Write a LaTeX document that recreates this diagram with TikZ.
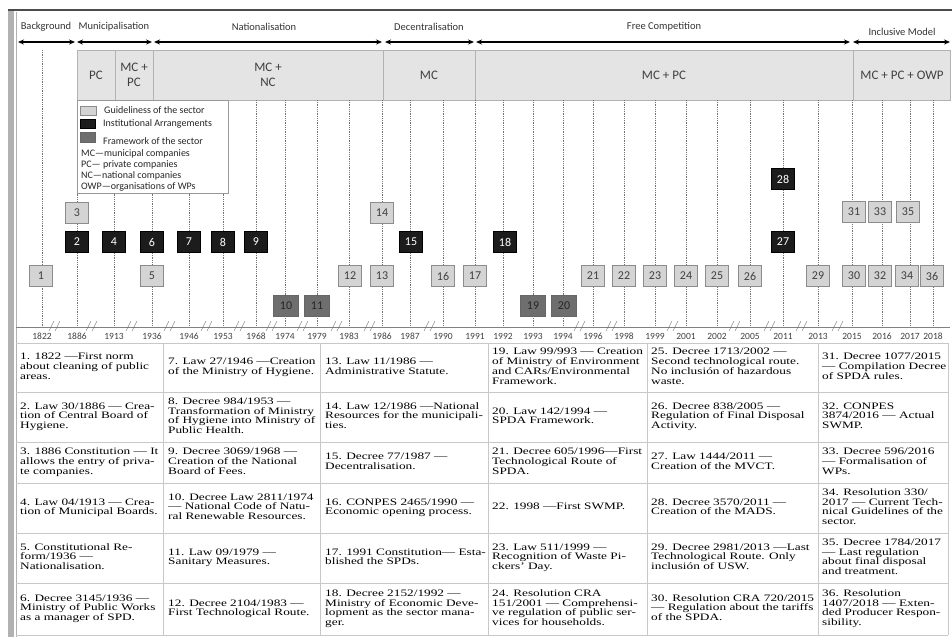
\documentclass[tikz,border=0pt]{standalone}
\usepackage{fontspec}
\usepackage{graphicx}
\setmainfont{Liberation Serif}
\newfontfamily\calfont{Carlito}
\usetikzlibrary{arrows.meta}
\definecolor{guidegray}{HTML}{D4D4D4}
\definecolor{instblack}{HTML}{1C1C1C}
\definecolor{fwgray}{HTML}{6E6E6E}
\definecolor{phasegray}{HTML}{E4E4E4}
\definecolor{gridgray}{HTML}{C8C8C8}
\newcommand{\evtext}[1]{\scalebox{1}[0.74]{\begin{tabular}{@{}l@{}}#1\end{tabular}}}

\begin{document}
\begin{tikzpicture}[x=1pt,y=-1pt,
    guidebox/.style={draw=black!45,fill=guidegray,minimum width=23pt,minimum height=21pt,inner sep=1pt,
      font=\calfont\fontsize{12}{12}\selectfont,text=black!75},
    instbox/.style={guidebox,draw=black,fill=instblack,text=white},
    fwbox/.style={guidebox,draw=black!60,fill=fwgray,text=black!85,minimum width=25pt},
    phase/.style={{Stealth[length=6pt,width=5pt]}-{Stealth[length=6pt,width=5pt]},line width=1.3pt},
    phaselabel/.style={font=\calfont\fontsize{10.5}{10.5}\selectfont,text=black!80,inner sep=0pt},
    actor/.style={font=\calfont\fontsize{13}{15}\selectfont,text=black!75,align=center,inner sep=0pt},
    yearline/.style={densely dotted,black!55,line width=0.8pt},
    yearlabel/.style={font=\calfont\fontsize{9.5}{9.5}\selectfont,text=black!75,inner sep=0pt},
    legtext/.style={font=\calfont\fontsize{10}{10}\selectfont,text=black!85,anchor=west,inner sep=0pt},
    cell/.style={anchor=west,inner sep=0pt,font=\fontsize{13.3}{13.3}\selectfont}]
  \useasboundingbox (0,0) rectangle (952,637);
  % frame
  \fill[black!30] (8,10) rectangle (14,637);
  \draw[line width=2pt,black!70] (8,10) -- (952,10);
  \draw[black!30] (16,12) -- (16,637);

  % phases
  \foreach \nm/\a/\b/\c/\d/\lab in {bg/18/75/46/27/Background, mun/77/152/114/27/Municipalisation,
      nat/154/382/264/27/Nationalisation, dec/385/474/429/27/Decentralisation,
      free/476/850/664/27/Free Competition, incl/853/950/902/32/Inclusive Model}{
    \coordinate (\nm L) at (\a,42);
    \coordinate (\nm R) at (\b,42);
    \draw[phase] (\nm L) -- (\nm R);
    \node[phaselabel] (\nm) at (\c,\d) {\lab};
  }

  % actors
  \draw[black!30,fill=phasegray] (77,50) rectangle (950,100);
  \foreach \x in {115,153,383,475,853}
    \draw[black!30] (\x,50) -- (\x,100);
  \node[actor] (pc) at (96,75) {PC};
  \node[actor] (mcpc) at (134,75) {MC +\\PC};
  \node[actor] (mcnc) at (268,75) {MC +\\NC};
  \node[actor] (mc) at (429,75) {MC};
  \node[actor] (mcpc2) at (664,75) {MC + PC};
  \node[actor] (mcpcowp) at (902,75) {MC + PC + OWP};

  % year lines
  \foreach \yr/\xx/\top in {1822/42/50, 1886/77/100, 1913/114/100, 1936/152/100, 1946/189/100,
      1953/223/100, 1968/256/100, 1974/285/100, 1979/317/100, 1983/349/100, 1986/382/100,
      1987/410/100, 1990/443/100, 1991/475/100, 1992/503/100, 1993/533/100, 1994/563/100,
      1996/593/100, 1998/624/100, 1999/655/100, 2001/686/100, 2002/717/100, 2005/750/100,
      2011/783/100, 2013/818/100, 2015/852/100, 2016/882/100, 2017/910/100, 2018/933/100}{
    \coordinate (t\yr) at (\xx,\top);
    \coordinate (y\yr) at (\xx,327);
    \draw[yearline] (t\yr) -- (y\yr);
    \node[yearlabel] (l\yr) at (\xx,336) {\yr};
  }
  \draw[black!50] (16,327) -- (950,327);
  \foreach \m in {55,92,132,170,207,240,272,303,337,370,430,580,612,673,735,770,802,838}
    \draw[black!60] (\m-6,331) -- (\m-1,321) (\m,331) -- (\m+5,321);

  % legend
  \draw[black!40,fill=white] (77,100) rectangle (228,193);
  \draw[black!45,fill=guidegray] (80,106) rectangle (96,115);
  \draw[black,fill=instblack] (80,119) rectangle (95,128);
  \draw[black!60,fill=fwgray] (80,132) rectangle (95,142);
  \node[legtext] (lg1) at (104,110) {Guideliness of the sector};
  \node[legtext] (lg2) at (103,124) {Institutional Arrangements};
  \node[legtext] (lg3) at (103,141) {Framework of the sector};
  \node[legtext] (lg4) at (81,154) {MC—municipal companies};
  \node[legtext] (lg5) at (81,165) {PC— private companies};
  \node[legtext] (lg6) at (81,176) {NC—national companies};
  \node[legtext] (lg7) at (81,187) {OWP—organisations of WPs};

  % events
  \foreach \n/\x/\y in {1/41/276, 3/77/213, 5/152/276, 12/350/276, 13/382/276, 14/382/213,
      16/443/276, 17/475/276, 21/593/276, 22/624/276, 23/655/276, 24/686/276, 25/717/276,
      26/750/276, 29/818/276, 30/854/276, 31/854/212, 32/880/276, 33/880/212, 34/907/276,
      35/908/212, 36/932/276}
    \node[guidebox] (b\n) at (\x,\y) {\n};
  \foreach \n/\x/\y in {2/77/242, 4/114/242, 6/152/242, 7/189/242, 8/223/242, 9/256/242,
      15/411/242, 18/505/242, 27/783/242, 28/783/179}
    \node[instbox] (b\n) at (\x,\y) {\n};
  \foreach \n/\x/\y in {10/286/306, 11/317/306, 19/533/306, 20/564/306}
    \node[fwbox] (b\n) at (\x,\y) {\n};

  % table
  \foreach \y in {343,392,442,483,533,583,635}
    \draw[gridgray] (16,\y) -- (948,\y);
  \foreach \x in {163,320,488,647,818,948}
    \draw[gridgray] (\x,343) -- (\x,635);

  \node[cell] (c1) at (20,367.5) {\evtext{1. 1822 —First norm\\about cleaning of public\\areas.}};
  \node[cell] (c2) at (20,417) {\evtext{2. Law 30/1886 — Crea-\\tion of Central Board of\\Hygiene.}};
  \node[cell] (c3) at (20,462.5) {\evtext{3. 1886 Constitution — It\\allows the entry of priva-\\te companies.}};
  \node[cell] (c4) at (20,508) {\evtext{4. Law 04/1913 — Crea-\\tion of Municipal Boards.}};
  \node[cell] (c5) at (20,558) {\evtext{5. Constitutional Re-\\form/1936 —\\Nationalisation.}};
  \node[cell] (c6) at (20,609) {\evtext{6. Decree 3145/1936 —\\Ministry of Public Works\\as a manager of SPD.}};

  \node[cell] (c7) at (168,367.5) {\evtext{7. Law 27/1946 —Creation\\of the Ministry of Hygiene.}};
  \node[cell] (c8) at (168,417) {\evtext{8. Decree 984/1953 —\\Transformation of Ministry\\of Hygiene into Ministry of\\Public Health.}};
  \node[cell] (c9) at (168,462.5) {\evtext{9. Decree 3069/1968 —\\Creation of the  National\\Board of Fees.}};
  \node[cell] (c10) at (168,508) {\evtext{10. Decree Law 2811/1974\\— National Code of Natu-\\ral Renewable Resources.}};
  \node[cell] (c11) at (168,558) {\evtext{11. Law 09/1979 —\\Sanitary Measures.}};
  \node[cell] (c12) at (168,609) {\evtext{12. Decree 2104/1983 —\\First Technological Route.}};

  \node[cell] (c13) at (325,367.5) {\evtext{13. Law 11/1986 —\\Administrative Statute.}};
  \node[cell] (c14) at (325,417) {\evtext{14. Law 12/1986 —National\\Resources for the municipali-\\ties.}};
  \node[cell] (c15) at (325,462.5) {\evtext{15. Decree 77/1987 —\\Decentralisation.}};
  \node[cell] (c16) at (325,508) {\evtext{16. CONPES 2465/1990 —\\Economic opening process.}};
  \node[cell] (c17) at (325,558) {\evtext{17. 1991 Constitution— Esta-\\blished the SPDs.}};
  \node[cell] (c18) at (325,609) {\evtext{18. Decree 2152/1992 —\\Ministry of Economic Deve-\\lopment as the sector mana-\\ger.}};

  \node[cell] (c19) at (492,367.5) {\evtext{19. Law 99/993 — Creation\\of Ministry of Environment\\and CARs/Environmental\\Framework.}};
  \node[cell] (c20) at (492,417) {\evtext{20. Law 142/1994 —\\SPDA Framework.}};
  \node[cell] (c21) at (492,462.5) {\evtext{21. Decree 605/1996—First\\Technological Route of\\SPDA.}};
  \node[cell] (c22) at (492,508) {\evtext{22. 1998 —First  SWMP.}};
  \node[cell] (c23) at (492,558) {\evtext{23. Law 511/1999 —\\Recognition of Waste Pi-\\ckers’ Day.}};
  \node[cell] (c24) at (492,609) {\evtext{24. Resolution CRA\\151/2001 — Comprehensi-\\ve regulation of public ser-\\vices for households.}};

  \node[cell] (c25) at (651,367.5) {\evtext{25. Decree 1713/2002 —\\Second technological route.\\No inclusión of hazardous\\waste.}};
  \node[cell] (c26) at (651,417) {\evtext{26. Decree 838/2005 —\\Regulation of Final Disposal\\Activity.}};
  \node[cell] (c27) at (651,462.5) {\evtext{27. Law 1444/2011 —\\Creation of the MVCT.}};
  \node[cell] (c28) at (651,508) {\evtext{28. Decree 3570/2011 —\\Creation of the MADS.}};
  \node[cell] (c29) at (651,558) {\evtext{29. Decree 2981/2013 —Last\\Technological Route.  Only\\inclusión of USW.}};
  \node[cell] (c30) at (651,609) {\evtext{30. Resolution CRA 720/2015\\— Regulation about the tariffs\\of the SPDA.}};

  \node[cell] (c31) at (822,367.5) {\evtext{31. Decree 1077/2015\\— Compilation Decree\\of SPDA rules.}};
  \node[cell] (c32) at (822,417) {\evtext{32. CONPES\\3874/2016 — Actual\\SWMP.}};
  \node[cell] (c33) at (822,462.5) {\evtext{33. Decree 596/2016\\— Formalisation of\\WPs.}};
  \node[cell] (c34) at (822,508) {\evtext{34. Resolution 330/\\2017 — Current Tech-\\nical Guidelines of the\\sector.}};
  \node[cell] (c35) at (822,558) {\evtext{35. Decree 1784/2017\\— Last regulation\\about final disposal\\and treatment.}};
  \node[cell] (c36) at (822,609) {\evtext{36. Resolution\\1407/2018 — Exten-\\ded Producer Respon-\\sibility.}};
\end{tikzpicture}
\end{document}
